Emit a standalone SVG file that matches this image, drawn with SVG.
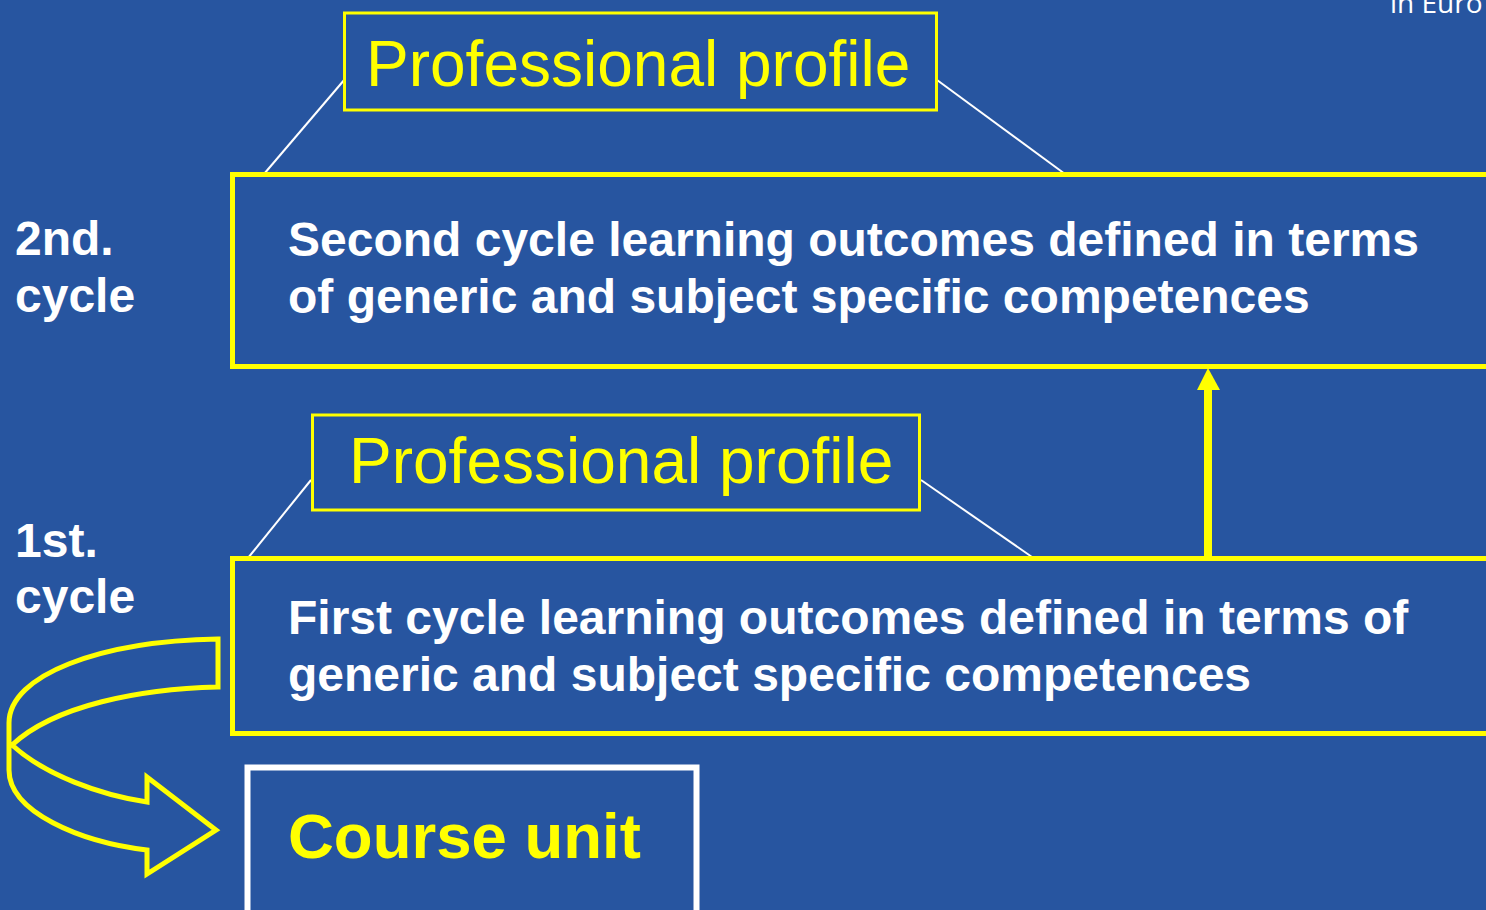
<svg xmlns="http://www.w3.org/2000/svg" width="1486" height="910" viewBox="0 0 1486 910">
<style>
.pp{fill:none;stroke:#FFFF00;stroke-width:3}
.big{fill:none;stroke:#FFFF00;stroke-width:5}
.lead{stroke:#FFFFFF;stroke-width:2;fill:none}
.ppt{font-family:"Liberation Sans",Arial,sans-serif;font-size:64px;fill:#FFFF00}
.bt{font-family:"Liberation Sans",Arial,sans-serif;font-weight:bold;font-size:48px;fill:#FFFFFF}
</style>
<rect x="0" y="0" width="1486" height="910" fill="#2755A0"/>
<text x="1390" y="13" font-family="'Open Sans','Liberation Sans',sans-serif" font-size="28" fill="#FFFFFF">in Euro</text>
<g id="label-2nd"><text class="bt" x="15" y="255">2nd.</text><text class="bt" x="15" y="312">cycle</text></g>
<g id="label-1st"><text class="bt" x="15" y="557">1st.</text><text class="bt" x="15" y="613">cycle</text></g>
<g id="connectors">
<line class="lead" x1="345" y1="79" x2="264" y2="174"/>
<line class="lead" x1="937" y1="80" x2="1065" y2="174"/>
<line class="lead" x1="311" y1="480" x2="248" y2="558" stroke-width="3"/>
<line class="lead" x1="921" y1="480" x2="1032" y2="557" stroke-width="3"/>
<rect x="1204" y="388" width="8" height="170" fill="#FFFF00"/>
<polygon points="1208,368 1197,390 1220,390" fill="#FFFF00"/>
<path class="big" stroke-linejoin="miter" d="M218,639 L218,687 C140,689 55,705 12,745 C45,775 100,795 147,802 L147,777 L216,830 L147,874 L147,850 C80,842 9,812 9,770 L9,723 C9,675 100,641 218,639 Z"/>
</g>
<g id="pp-top"><rect class="pp" x="344.5" y="13" width="592" height="97"/><text class="ppt" x="366" y="86">Professional profile</text></g>
<g id="second-cycle"><rect class="big" x="232.5" y="174.5" width="1270" height="192"/>
<text class="bt" x="288" y="256">Second cycle learning outcomes defined in terms</text>
<text class="bt" x="288" y="313">of generic and subject specific competences</text></g>
<g id="pp-bottom"><rect class="pp" x="312.5" y="415" width="607" height="95" stroke-width="4"/><text class="ppt" x="349" y="483">Professional profile</text></g>
<g id="first-cycle"><rect class="big" x="232.5" y="558.5" width="1270" height="175"/>
<text class="bt" x="288" y="634">First cycle learning outcomes defined in terms of</text>
<text class="bt" x="288" y="691">generic and subject specific competences</text></g>
<g id="course-unit"><rect x="247.5" y="767.5" width="449" height="150" fill="none" stroke="#FFFFFF" stroke-width="6"/>
<text x="288" y="858" font-family="'Liberation Sans',Arial,sans-serif" font-weight="bold" font-size="63.5" fill="#FFFF00">Course unit</text></g>
</svg>
